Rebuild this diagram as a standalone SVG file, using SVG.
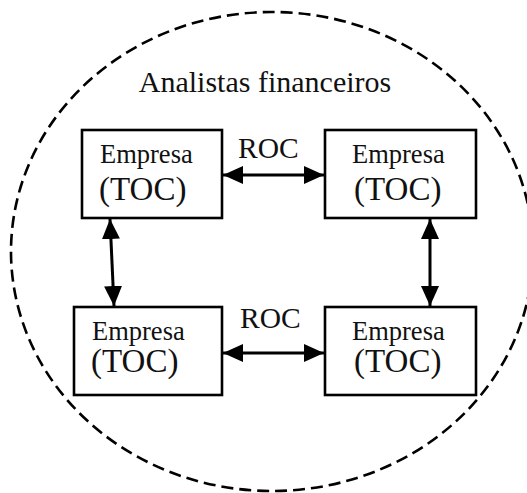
<svg xmlns="http://www.w3.org/2000/svg" width="527" height="493" viewBox="0 0 527 493">
<style>
.box{fill:#fff;stroke:#000;stroke-width:2.6}
.conn{stroke:#000;stroke-width:3;fill:none;marker-start:url(#ah);marker-end:url(#ah)}
.t{font-family:"Liberation Serif",serif;fill:#111}
.e{font-size:26.5px}
.toc{font-size:33px}
.roc{font-size:29.5px}
</style>
<defs>
<marker id="ah" viewBox="0 0 20 18" refX="20" refY="9" markerWidth="20" markerHeight="18" markerUnits="userSpaceOnUse" orient="auto-start-reverse">
<path d="M0,0 L20,9 L0,18 Z" fill="#000"/>
</marker>
</defs>
<rect width="527" height="493" fill="#fff"/>
<ellipse id="boundary" cx="272" cy="251.5" rx="261" ry="239.5" fill="none" stroke="#000" stroke-width="2.6" stroke-dasharray="12,6"/>
<text class="t" x="265" y="92" text-anchor="middle" font-size="30" fill="#222">Analistas financeiros</text>
<g id="n1"><rect class="box" x="82" y="130" width="140" height="88"/><text class="t e" x="100" y="163">Empresa</text><text class="t toc" x="99" y="200">(TOC)</text></g>
<g id="n2"><rect class="box" x="325" y="130" width="151" height="88"/><text class="t e" x="352" y="163">Empresa</text><text class="t toc" x="354" y="200">(TOC)</text></g>
<g id="n3"><rect class="box" x="74" y="307" width="148" height="88"/><text class="t e" x="92" y="340">Empresa</text><text class="t toc" x="91" y="372">(TOC)</text></g>
<g id="n4"><rect class="box" x="325" y="307" width="151" height="88"/><text class="t e" x="352" y="340">Empresa</text><text class="t toc" x="354" y="372">(TOC)</text></g>
<g id="connectors">
<line class="conn" x1="223" y1="175" x2="324" y2="175"/>
<line class="conn" x1="223" y1="353" x2="324" y2="353"/>
<line class="conn" x1="110" y1="219" x2="114" y2="306"/>
<line class="conn" x1="430" y1="219" x2="430" y2="306"/>
<text class="t roc" x="238" y="158">ROC</text>
<text class="t roc" x="240" y="328">ROC</text>
</g>
</svg>
